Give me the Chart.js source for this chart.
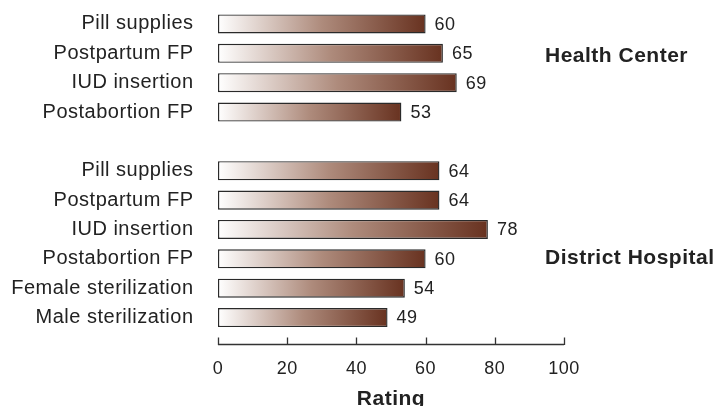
<!DOCTYPE html>
<html>
<head>
<meta charset="utf-8">
<script src="https://cdn.jsdelivr.net/npm/chart.js@4"></script>
<style>
html,body{margin:0;padding:0;background:#fff;}
canvas{display:block;}
</style>
</head>
<body>
<canvas id="c" width="720" height="406"></canvas>
<script>
const categories = ['Pill supplies','Postpartum FP','IUD insertion','Postabortion FP','','Pill supplies','Postpartum FP','IUD insertion','Postabortion FP','Female sterilization','Male sterilization'];
const ratings = [60,65,69,53,null,64,64,78,60,54,49];
const groupNames = ['Health Center','District Hospital'];
const groupRows = [1, 8];
const xTickValues = [0,20,40,60,80,100];
const FONT = "'Liberation Sans', Arial, Helvetica, sans-serif";

function spacing(chart) {
  try { chart.ctx.letterSpacing = '0.5px'; } catch (e) {}
}

const extras = {
  id: 'extras',
  beforeUpdate(chart) { spacing(chart); },
  beforeLayout(chart) { spacing(chart); },
  beforeDraw(chart) { spacing(chart); },
  afterDatasetsDraw(chart) {
    const ctx = chart.ctx;
    const xs = chart.scales.x, ys = chart.scales.y;
    const meta = chart.getDatasetMeta(0);
    ctx.save();
    // value labels
    ctx.fillStyle = '#222';
    ctx.font = '18px ' + FONT;
    ctx.textAlign = 'left';
    ctx.textBaseline = 'middle';
    meta.data.forEach((bar, i) => {
      const v = ratings[i];
      if (v == null) return;
      ctx.fillText(String(v), bar.x + 9, bar.y + 1);
    });
    // group labels
    ctx.font = 'bold 21px ' + FONT;
    const dy = [2.5, -0.5];
    groupNames.forEach((g, i) => {
      ctx.fillText(g, chart.chartArea.right - 19, ys.getPixelForValue(groupRows[i]) + dy[i]);
    });
    // axis line with upward ticks
    const yLine = Math.round(chart.chartArea.bottom + 12) + 0.5;
    ctx.strokeStyle = '#333';
    ctx.lineWidth = 1.3;
    ctx.beginPath();
    ctx.moveTo(xs.getPixelForValue(0), yLine);
    ctx.lineTo(xs.getPixelForValue(100), yLine);
    xTickValues.forEach(t => {
      const px = Math.round(xs.getPixelForValue(t)) + 0.5;
      ctx.moveTo(px, yLine + 0.6);
      ctx.lineTo(px, yLine - 7);
    });
    ctx.stroke();
    ctx.restore();
  }
};

new Chart(document.getElementById('c'), {
  type: 'bar',
  data: {
    labels: categories,
    datasets: [{
      data: ratings,
      barPercentage: 0.65,
      categoryPercentage: 1,
      borderColor: '#2a2a2a',
      borderWidth: 1.4,
      borderSkipped: false,
      backgroundColor: (c) => {
        const chart = c.chart;
        const v = c.raw;
        if (v == null || !chart.scales || !chart.scales.x) return '#a08070';
        const x0 = chart.scales.x.getPixelForValue(0);
        const x1 = chart.scales.x.getPixelForValue(v);
        if (!isFinite(x0) || !isFinite(x1)) return '#a08070';
        const g = chart.ctx.createLinearGradient(x0, 0, x1, 0);
        g.addColorStop(0, '#ffffff');
        g.addColorStop(0.5, '#ae8b7c');
        g.addColorStop(1, '#683220');
        return g;
      }
    }]
  },
  options: {
    indexAxis: 'y',
    responsive: false,
    animation: false,
    devicePixelRatio: 1,
    layout: { padding: { top: 9.3, right: 156, left: 0, bottom: 0 } },
    plugins: { legend: { display: false }, tooltip: { enabled: false } },
    scales: {
      y: {
        type: 'category',
        offset: true,
        grid: { display: false, drawTicks: false, tickLength: 0 },
        border: { display: false },
        ticks: { color: '#222', font: { family: FONT, size: 20 }, padding: 24.5, autoSkip: false },
        afterFit(s) { s.width = 218; s.paddingTop = 0; s.paddingBottom = 0; }
      },
      x: {
        type: 'linear',
        min: 0, max: 100,
        afterBuildTicks(s) { s.ticks = xTickValues.map(v => ({ value: v })); },
        grid: { display: false, drawTicks: false, tickLength: 0 },
        border: { display: false },
        ticks: { color: '#222', font: { family: FONT, size: 18 }, padding: 26, maxRotation: 0 },
        title: { display: true, text: 'Rating', color: '#222', font: { family: FONT, size: 21, weight: 'bold' }, padding: { top: 0, bottom: -6 } },
        afterFit(s) { s.height = 73.8; s.paddingLeft = 0; s.paddingRight = 0; }
      }
    }
  },
  plugins: [extras]
});
</script>
</body>
</html>
